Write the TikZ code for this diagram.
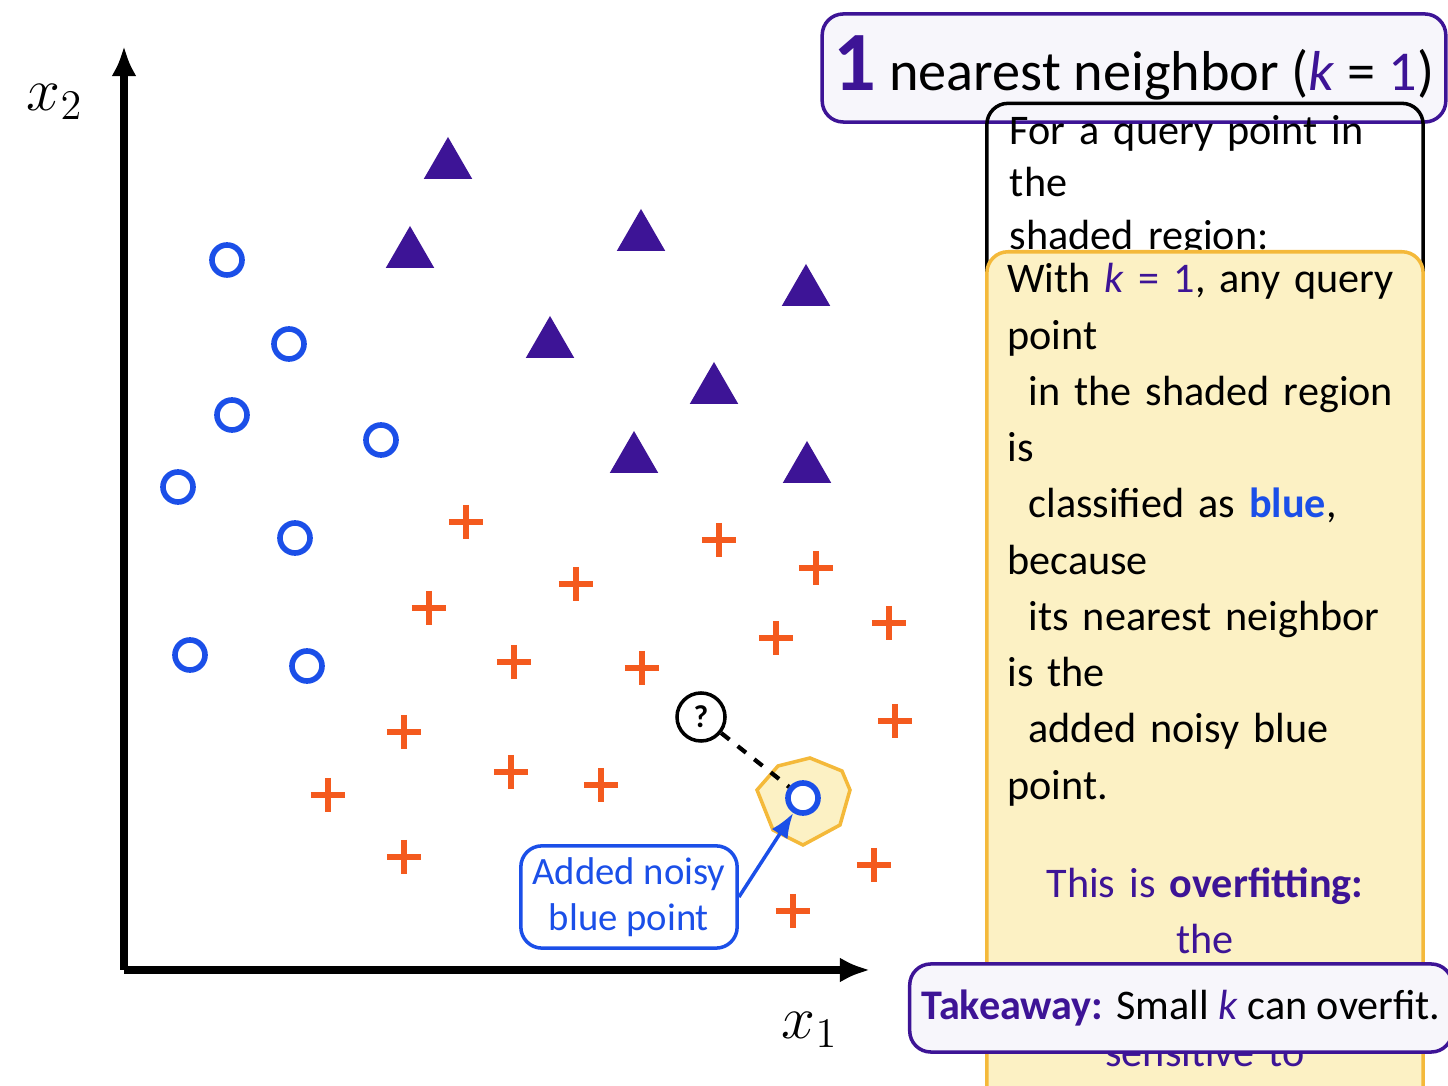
\documentclass[tikz,border=0pt]{standalone}
\usepackage{fontspec}
\setmainfont{Carlito}
\usetikzlibrary{arrows.meta,shapes.geometric}
\definecolor{navy}{HTML}{3D1496}
\definecolor{pblue}{HTML}{1B4FE8}
\definecolor{porange}{HTML}{F45A1E}
\definecolor{pyellow}{HTML}{FCF1C4}
\definecolor{pgold}{HTML}{F4B93A}
\tikzset{
  tri/.style={regular polygon, regular polygon sides=3, fill=navy, inner sep=0pt, minimum size=0.56cm},
  circ/.style={circle, draw=pblue, line width=1.6pt, inner sep=0pt, minimum size=0.3cm},
  plus/.style={inner sep=0pt, minimum size=0.34cm, path picture={
      \draw[porange, line width=1.5pt] (path picture bounding box.west) -- (path picture bounding box.east)
      (path picture bounding box.north) -- (path picture bounding box.south);}},
  panel/.style={draw, rounded corners=6pt, line width=1pt}
}
\begin{document}
\begin{tikzpicture}[x=0.01cm, y=-0.01cm]
                \useasboundingbox (0,0) rectangle (1448,1086);
                % axes
                \coordinate (o) at (124,970);
                \coordinate (ytop) at (124,46);
                \coordinate (xend) at (870,970);
                \draw[line width=2pt, -{Latex[length=0.3cm,width=0.25cm]}] (o) -- (ytop);
                \draw[line width=2pt, -{Latex[length=0.3cm,width=0.25cm]}] (o) -- (xend);
                \node (xtwo) at (55,102) {\fontsize{17}{17}\selectfont$x_2$};
                \node (xone) at (810,1030) {\fontsize{17}{17}\selectfont$x_1$};
                % classes
                \foreach \p [count=\i] in {(448,165),(410,254),(641,237),(806,292),(550,344),(714,390),(634,459),(807,469)}
                  \node[tri] (t\i) at \p {};
                \foreach \p [count=\i] in {(227,260),(289,344),(232,415),(381,440),(178,487),(295,538),(190,655),(307,666)}
                  \node[circ] (c\i) at \p {};
                \foreach \p [count=\i] in {(466,522),(719,540),(816,568),(576,584),(429,608),(889,623),(776,638),(514,662),(642,668),(895,721),(404,732),(511,772),(601,785),(328,795),(404,857),(874,865),(793,911)}
                  \node[plus] (p\i) at \p {};
                % shaded region and noisy point
                \draw[pgold, fill=pyellow, line width=1pt] (757,790) -- (778,766) -- (810,758) -- (842,771) -- (850,790) -- (840,825) -- (803,845) -- (773,830) -- cycle;
                \node[circ, fill=white] (noisy) at (803,798) {};
                \node[circle, draw, line width=1pt, minimum size=0.48cm, inner sep=0pt, font=\small\bfseries] (query) at (701,717) {?};
                \draw[dashed, line width=1.2pt] (query) -- (noisy);
                \node[panel, draw=pblue, text=pblue, minimum width=2.08cm, minimum height=1cm, align=center, font=\fontsize{11}{13}\selectfont] (note) at (629,897) {Added noisy\\blue point};
                \draw[pblue, line width=1pt, -{Latex[length=0.25cm]}] (note.east) -- (noisy);
                % right panels
                \node[panel, draw=navy, fill=navy!4, minimum width=5.74cm, minimum height=1.08cm] (title) at (1134,68)
                  {\fontsize{16}{16}\selectfont\textcolor{navy}{\fontsize{24}{24}\selectfont\bfseries 1} nearest neighbor (\textcolor{navy}{\textit{k}} = \textcolor{navy}{1})};
                \node[panel, minimum width=4.36cm, minimum height=2.69cm, text width=3.9cm, align=left, font=\fontsize{12}{15}\selectfont] (rule) at (1205,293)
                  {For a query point in the\\ shaded region:\\[8pt]
                   $\bullet$\quad nearest neighbor = \tikz[baseline=-3pt]\draw[pblue, line width=1.8pt] (0,0) circle (0.17cm);\\[8pt]
                   $\bullet$\quad prediction = \textcolor{pblue}{\bfseries blue}};
                \node[panel, draw=pgold, fill=pyellow, minimum width=4.36cm, minimum height=4.48cm, text width=3.95cm, align=left, font=\fontsize{12}{16}\selectfont] (why) at (1205,694)
                  {With \textcolor{navy}{\textit{k} = 1}, any query point\\
                   \hspace*{6pt}in the shaded region is\\
                   \hspace*{6pt}classified as \textcolor{pblue}{\bfseries blue}, because\\
                   \hspace*{6pt}its nearest neighbor is the\\
                   \hspace*{6pt}added noisy blue point.\\[12pt]
                   {\centering\color{navy}This is \textbf{overfitting:} the\\ classifier is too sensitive to\\ noise / \textbf{outliers.}\par}};
                \node[panel, draw=navy, fill=navy!4, minimum width=4.79cm, minimum height=0.88cm, font=\fontsize{12}{15}\selectfont] (take) at (1181,1008)
                  {\textcolor{navy}{\bfseries Takeaway:} Small \textcolor{navy}{\textit{k}} can overfit.};
\end{tikzpicture}
\end{document}
